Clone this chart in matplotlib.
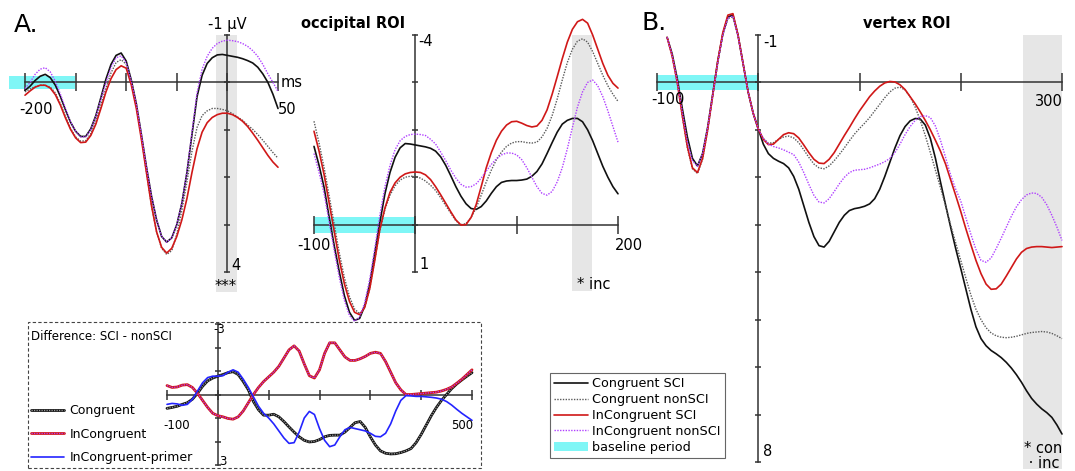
import matplotlib
matplotlib.use('Agg')
import matplotlib.pyplot as plt
from matplotlib.patches import Rectangle, Patch

# --- data (µV, negative up) ---
T_LEFT = list(range(-200, 51, 5))
LEFT_CON_SCI = [0.17, 0.08, -0.04, -0.13, -0.17, -0.1, 0.06, 0.3, 0.58, 0.84, 1.03, 1.14, 1.14, 0.98,
                0.7, 0.32, -0.07, -0.38, -0.57, -0.62, -0.45, -0.05, 0.45, 1.1, 1.78, 2.4, 2.9, 3.25,
                3.37, 3.28, 3.0, 2.55, 1.9, 1.1, 0.3, -0.15, -0.4, -0.52, -0.58, -0.59,
                -0.57, -0.55, -0.53, -0.5, -0.46, -0.41, -0.32, -0.18, 0.0, 0.25, 0.55]
LEFT_CON_NON = [0.2, 0.14, 0.09, 0.06, 0.06, 0.1, 0.22, 0.45, 0.72, 0.97, 1.15, 1.24, 1.23, 1.08,
                0.82, 0.47, 0.12, -0.2, -0.42, -0.48, -0.38, 0.0, 0.5, 1.15, 1.9, 2.6, 3.15, 3.5,
                3.63, 3.55, 3.2, 2.7, 2.1, 1.45, 0.95, 0.7, 0.6, 0.55, 0.55, 0.57,
                0.6, 0.66, 0.73, 0.8, 0.9, 0.99, 1.1, 1.22, 1.35, 1.48, 1.6]
LEFT_INC_SCI = [0.27, 0.18, 0.1, 0.06, 0.06, 0.12, 0.26, 0.48, 0.75, 0.99, 1.17, 1.27, 1.26, 1.12,
                0.88, 0.55, 0.2, -0.08, -0.27, -0.35, -0.3, 0.05, 0.55, 1.2, 1.9, 2.6, 3.15, 3.48,
                3.6, 3.5, 3.25, 2.9, 2.45, 1.9, 1.4, 1.05, 0.85, 0.74, 0.68, 0.65,
                0.65, 0.68, 0.74, 0.82, 0.93, 1.07, 1.22, 1.38, 1.54, 1.68, 1.79]
LEFT_INC_NON = [0.13, 0.0, -0.17, -0.28, -0.31, -0.22, -0.02, 0.25, 0.55, 0.83, 1.03, 1.15, 1.15, 1.0,
                0.72, 0.35, 0.0, -0.32, -0.52, -0.56, -0.42, -0.03, 0.45, 1.1, 1.78, 2.4, 2.9, 3.25,
                3.37, 3.28, 3.0, 2.55, 1.9, 1.05, 0.22, -0.28, -0.55, -0.72, -0.82, -0.87,
                -0.89, -0.88, -0.86, -0.82, -0.76, -0.67, -0.55, -0.38, -0.18, 0.0, 0.19]

T_OCC = list(range(-100, 201, 5))
OCC_CON_SCI = [-1.65, -1.25, -0.78, -0.15, 0.45, 1.0, 1.5, 1.85, 2.02, 1.98, 1.72, 1.25, 0.6, -0.05,
               -0.65, -1.1, -1.42, -1.62, -1.71, -1.7,
               -1.68, -1.66, -1.64, -1.61, -1.55, -1.43, -1.25, -1.03, -0.8, -0.6, -0.44, -0.34,
               -0.32, -0.38, -0.5, -0.66, -0.8, -0.89, -0.92, -0.93, -0.93, -0.94, -0.96, -1.02,
               -1.12, -1.28, -1.5, -1.73, -1.95, -2.12, -2.2, -2.24, -2.24, -2.17, -2.0, -1.77,
               -1.5, -1.23, -1.0, -0.8, -0.65]
OCC_CON_NON = [-2.18, -1.72, -1.2, -0.6, 0.0, 0.6, 1.12, 1.52, 1.78, 1.88, 1.75, 1.35, 0.75, 0.12,
               -0.32, -0.62, -0.82, -0.94, -1.0, -1.02,
               -1.02, -0.98, -0.92, -0.83, -0.72, -0.57, -0.4, -0.24, -0.08, 0.0, -0.02, -0.15,
               -0.35, -0.62, -0.9, -1.15, -1.37, -1.53, -1.65, -1.72, -1.75, -1.75, -1.73, -1.72,
               -1.74, -1.85, -2.03, -2.3, -2.65, -3.05, -3.42, -3.7, -3.87, -3.92, -3.85, -3.65,
               -3.4, -3.15, -2.93, -2.75, -2.6]
OCC_INC_SCI = [-1.97, -1.55, -1.05, -0.45, 0.15, 0.75, 1.25, 1.62, 1.85, 1.9, 1.75, 1.35, 0.75, 0.1,
               -0.35, -0.68, -0.88, -1.0, -1.07, -1.1,
               -1.11, -1.1, -1.05, -0.95, -0.8, -0.63, -0.45, -0.27, -0.1, 0.01, 0.0, -0.15,
               -0.42, -0.8, -1.2, -1.52, -1.78, -1.97, -2.1, -2.17, -2.18, -2.14, -2.09, -2.06,
               -2.08, -2.2, -2.42, -2.75, -3.12, -3.5, -3.85, -4.12, -4.28, -4.33, -4.25, -4.0,
               -3.7, -3.4, -3.15, -2.98, -2.88]
OCC_INC_NON = [-1.5, -1.1, -0.65, -0.05, 0.55, 1.12, 1.6, 1.92, 2.04, 1.95, 1.65, 1.15, 0.5, -0.2,
               -0.8, -1.25, -1.58, -1.77, -1.86, -1.9,
               -1.91, -1.9, -1.88, -1.8, -1.7, -1.53, -1.35, -1.15, -0.98, -0.85, -0.79, -0.8,
               -0.86, -0.98, -1.13, -1.27, -1.39, -1.47, -1.51, -1.51, -1.47, -1.37, -1.2, -1.0,
               -0.8, -0.66, -0.62, -0.7, -0.9, -1.2, -1.6, -2.05, -2.48, -2.8, -3.0, -3.05,
               -2.93, -2.7, -2.4, -2.07, -1.74]

T_VTX = list(range(-90, 301, 5))
VTX_CON_SCI = [-0.95, -0.6, -0.08, 0.55, 1.15, 1.6, 1.76, 1.5, 0.95, 0.25, -0.45, -1.02, -1.38, -1.42,
               -1.0, -0.4, 0.2, 0.65,
               0.98, 1.3, 1.5, 1.6, 1.66, 1.71, 1.8, 1.98, 2.25, 2.6, 2.95, 3.25, 3.44, 3.47, 3.35,
               3.15, 2.95, 2.8, 2.7, 2.66, 2.64, 2.61, 2.56, 2.45, 2.25, 1.98, 1.68, 1.38, 1.12,
               0.93, 0.81, 0.76, 0.77, 0.9, 1.18, 1.6, 2.1, 2.58, 3.05, 3.5, 3.92, 4.35, 4.78, 5.15,
               5.4, 5.55, 5.65, 5.72, 5.8, 5.9, 6.02, 6.16, 6.32, 6.5, 6.66, 6.78, 6.88, 6.96, 7.06,
               7.22, 7.41]
VTX_CON_NON = [-0.95, -0.55, 0.0, 0.72, 1.38, 1.82, 1.92, 1.62, 1.02, 0.3, -0.4, -1.0, -1.35, -1.38,
               -0.98, -0.4, 0.2, 0.65,
               0.98, 1.18, 1.28, 1.27, 1.2, 1.15, 1.13, 1.17, 1.27, 1.42, 1.58, 1.72, 1.8, 1.82,
               1.76, 1.65, 1.52, 1.38, 1.23, 1.09, 0.97, 0.86, 0.74, 0.6, 0.46, 0.32, 0.2, 0.12,
               0.1, 0.16, 0.3, 0.52, 0.8, 1.12, 1.48, 1.85, 2.22, 2.6, 3.0, 3.38, 3.75, 4.12, 4.48,
               4.78, 5.0, 5.17, 5.28, 5.34, 5.37, 5.38, 5.37, 5.35, 5.32, 5.29, 5.27, 5.26, 5.25,
               5.26, 5.29, 5.34, 5.4]
VTX_INC_SCI = [-0.95, -0.55, 0.0, 0.7, 1.35, 1.8, 1.9, 1.6, 1.0, 0.28, -0.45, -1.05, -1.42, -1.45,
               -1.0, -0.4, 0.2, 0.65,
               0.98, 1.2, 1.31, 1.3, 1.2, 1.1, 1.06, 1.08, 1.17, 1.32, 1.48, 1.62, 1.7, 1.71, 1.62,
               1.48, 1.3, 1.12, 0.95, 0.77, 0.6, 0.45, 0.3, 0.18, 0.08, 0.01, -0.02, -0.01, 0.05,
               0.15, 0.3, 0.45, 0.62, 0.8, 1.0, 1.22, 1.45, 1.72, 2.05, 2.38, 2.72, 3.08, 3.42,
               3.75, 4.03, 4.25, 4.36, 4.35, 4.25, 4.08, 3.9, 3.72, 3.58, 3.5, 3.47, 3.46, 3.46,
               3.47, 3.48, 3.47, 3.46]
VTX_INC_NON = [-0.95, -0.57, -0.03, 0.62, 1.25, 1.65, 1.77, 1.5, 0.95, 0.27, -0.42, -1.0, -1.36, -1.4,
               -0.98, -0.4, 0.2, 0.65,
               0.98, 1.18, 1.3, 1.35, 1.38, 1.42, 1.47, 1.52, 1.68, 1.9, 2.15, 2.38, 2.52, 2.54,
               2.45, 2.3, 2.14, 2.0, 1.9, 1.85, 1.84, 1.83, 1.8, 1.76, 1.72, 1.67, 1.6, 1.48, 1.3,
               1.1, 0.93, 0.8, 0.72, 0.7, 0.74, 0.92, 1.22, 1.58, 1.95, 2.25, 2.5, 2.85, 3.2, 3.52,
               3.75, 3.79, 3.7, 3.5, 3.28, 3.05, 2.82, 2.62, 2.47, 2.37, 2.33, 2.34, 2.42, 2.58,
               2.8, 3.05, 3.33]

T_DIFF = list(range(-100, 501, 10))
DIFF_CON = [0.59, 0.55, 0.5, 0.42, 0.35, 0.2, -0.05, -0.35, -0.58, -0.7, -0.78, -0.85, -0.93, -0.97,
            -0.85, -0.55, -0.2, 0.3, 0.65, 0.88, 0.88, 0.84, 0.95, 1.15, 1.38, 1.6, 1.8, 1.95, 2.02,
            2.0, 1.92, 1.8, 1.74, 1.73, 1.73, 1.6, 1.4, 1.2, 1.15, 1.4, 1.8, 2.15, 2.4, 2.5, 2.53,
            2.52, 2.47, 2.4, 2.3, 2.05, 1.7, 1.3, 0.9, 0.55, 0.25, 0.0, -0.25, -0.45, -0.62, -0.78,
            -0.93]
DIFF_INC = [-0.38, -0.3, -0.32, -0.4, -0.42, -0.3, -0.05, 0.25, 0.55, 0.8, 0.9, 0.95, 1.02, 1.05,
            0.95, 0.7, 0.35, 0.0, -0.3, -0.55, -0.75, -0.95, -1.2, -1.55, -1.9, -2.07, -1.85, -1.3,
            -0.8, -0.7, -1.05, -1.75, -2.2, -2.2, -1.9, -1.6, -1.45, -1.45, -1.52, -1.62, -1.75,
            -1.8, -1.75, -1.4, -0.95, -0.5, -0.2, 0.0, 0.0, -0.02, -0.04, -0.06, -0.08, -0.1, -0.15,
            -0.22, -0.32, -0.48, -0.65, -0.85, -1.05]
DIFF_PRIMER = [0.42, 0.38, 0.4, 0.46, 0.42, 0.2, -0.15, -0.5, -0.72, -0.78, -0.78, -0.8, -0.95, -1.05,
               -0.95, -0.65, -0.3, 0.1, 0.5, 0.8, 1.0, 1.25, 1.55, 1.85, 2.08, 2.05, 1.6, 1.0, 0.72,
               0.85, 1.45, 1.95, 2.22, 2.15, 1.8, 1.5, 1.4, 1.45, 1.5, 1.55, 1.65, 1.78, 1.8, 1.65,
               1.25, 0.7, 0.25, 0.05, 0.06, 0.08, 0.08, 0.1, 0.12, 0.15, 0.2, 0.3, 0.45, 0.63, 0.8,
               0.95, 1.1]

# time windows (ms) and baseline bands
LEFT_SIG = (-11, 9)
OCC_SIG = (155, 174)
VTX_SIG = (261, 300)
LEFT_BASE = (-216, -151)
OCC_BASE = (-100, 0)
VTX_BASE = (-100, 0)

BLACK = '#111111'
GRAY = '#5a5a5a'
RED = '#d01818'
PURPLE = '#b040ff'
BLUE = '#2424ff'
CYAN = '#7ff6f6'
BAND = '#e6e6e6'
AXC = '#333333'

W, H = 1075, 471
fig = plt.figure(figsize=(W / 100, H / 100), dpi=100)


def panel(xlim, ylim, px, py, xticks, yticks, xlen=13.5, ylen=5):
    # px: pixel columns of xlim ends, py: pixel rows of ylim ends (top value first)
    ax = fig.add_axes([px[0] / W, 1 - py[1] / H, (px[1] - px[0]) / W, (py[1] - py[0]) / H])
    ax.set_xlim(*xlim)
    ax.set_ylim(ylim[1], ylim[0])
    ax.patch.set_visible(False)
    for s in ['top', 'right']:
        ax.spines[s].set_visible(False)
    for s in ['left', 'bottom']:
        ax.spines[s].set_position(('data', 0))
        ax.spines[s].set_color(AXC)
        ax.spines[s].set_linewidth(1.1)
        ax.spines[s].set_zorder(2.5)
    ax.set_xticks(xticks)
    ax.set_yticks(yticks)
    ax.tick_params(labelbottom=False, labelleft=False)
    ax.tick_params(axis='x', direction='inout', length=xlen, width=1.1, color=AXC)
    ax.tick_params(axis='y', direction='inout', length=ylen, width=1.1, color=AXC)
    return ax


LKW = dict(clip_on=False, zorder=3, solid_joinstyle='round', dash_joinstyle='round',
           solid_capstyle='round')


def erp(ax, t, con_sci, con_non, inc_sci, inc_non):
    a = ax.plot(t, con_sci, color=BLACK, lw=1.2, label='Congruent SCI', **LKW)[0]
    b = ax.plot(t, con_non, color=GRAY, lw=1.0, ls=(0, (1, 1)), label='Congruent nonSCI', **LKW)[0]
    c = ax.plot(t, inc_sci, color=RED, lw=1.2, label='InCongruent SCI', **LKW)[0]
    d = ax.plot(t, inc_non, color=PURPLE, lw=1.0, ls=(0, (1, 1)), label='InCongruent nonSCI', **LKW)[0]
    return [a, b, c, d]


def bands(ax, sig, sig_y, base, base_h):
    ax.fill_between(sig, sig_y[0], sig_y[1], color=BAND, lw=0, zorder=0.5, clip_on=False)
    ax.fill_between(base, -base_h, base_h, color=CYAN, lw=0, zorder=1, clip_on=False)


FS = 10.5

# --- A: left panel ---
axl = panel((-200, 50), (-1, 4), (25, 278), (35, 272), range(-200, 51, 50), range(-1, 5))
bands(axl, LEFT_SIG, (-1, 4.43), LEFT_BASE, 0.13)
erp(axl, T_LEFT, LEFT_CON_SCI, LEFT_CON_NON, LEFT_INC_SCI, LEFT_INC_NON)
axl.text(-206, 0.57, '-200', fontsize=FS, ha='left', va='center')
axl.text(50, 0.57, '50', fontsize=FS, ha='left', va='center')
axl.text(53, 0.0, 'ms', fontsize=FS, ha='left', va='center')
axl.text(0, -1.22, '-1 µV', fontsize=FS, ha='center', va='center')
axl.text(4, 3.86, '4', fontsize=FS, ha='left', va='center')
axl.text(-2, 4.3, '***', fontsize=FS, ha='center', va='center')
fig.text(14 / W, 1 - 32 / H, 'A.', fontsize=18, ha='left', va='baseline')

# --- occipital ROI ---
axm = panel((-100, 200), (-4, 1), (314, 618), (35, 272), range(-100, 201, 100), range(-4, 2))
bands(axm, OCC_SIG, (-4, 1.41), OCC_BASE, 0.17)
erp(axm, T_OCC, OCC_CON_SCI, OCC_CON_NON, OCC_INC_SCI, OCC_INC_NON)
axm.text(-100, 0.45, '-100', fontsize=FS, ha='center', va='center')
axm.text(197, 0.45, '200', fontsize=FS, ha='left', va='center')
axm.text(3, -3.86, '-4', fontsize=FS, ha='left', va='center')
axm.text(4, 0.84, '1', fontsize=FS, ha='left', va='center')
axm.text(160, 1.27, '* inc', fontsize=FS, ha='left', va='center')
axm.text(-61, -4.24, 'occipital ROI', fontsize=FS, fontweight='bold', ha='center', va='center')

# --- B: vertex ROI ---
axr = panel((-100, 300), (-1, 8), (657, 1062), (35, 462), range(-100, 301, 100), range(-1, 9))
bands(axr, VTX_SIG, (-1, 8.14), VTX_BASE, 0.16)
lines = erp(axr, T_VTX, VTX_CON_SCI, VTX_CON_NON, VTX_INC_SCI, VTX_INC_NON)
axr.text(-106, 0.36, '-100', fontsize=FS, ha='left', va='center')
axr.text(301, 0.4, '300', fontsize=FS, ha='right', va='center')
axr.text(5, -0.84, '-1', fontsize=FS, ha='left', va='center')
axr.text(5, 7.78, '8', fontsize=FS, ha='left', va='center')
axr.text(262, 7.72, '* con', fontsize=FS, ha='left', va='center')
axr.text(262, 8.03, ' \u00b7 inc', fontsize=FS, ha='left', va='center')
axr.text(147, -1.24, 'vertex ROI', fontsize=FS, fontweight='bold', ha='center', va='center')
fig.text(641 / W, 1 - 30 / H, 'B.', fontsize=18, ha='left', va='baseline')

leg = fig.legend(handles=lines + [Patch(facecolor=CYAN, edgecolor='none', label='baseline period')],
                 loc='upper left', bbox_to_anchor=(550 / W, 1 - 373 / H), borderaxespad=0,
                 fontsize=9.2, frameon=True, fancybox=False, edgecolor='#666666', framealpha=1,
                 borderpad=0.35, labelspacing=0.22, handlelength=2.6, handletextpad=0.35)
leg.get_frame().set_linewidth(0.8)

# --- inset: difference waves ---
fig.patches.append(Rectangle((28 / W, 1 - 468 / H), (481 - 28) / W, (468 - 322) / H,
                             transform=fig.transFigure, fill=False, ls=(0, (3, 2)),
                             lw=0.8, ec='#444444'))
fig.text(31 / W, 1 - 336 / H, 'Difference: SCI - nonSCI', fontsize=8.5, ha='left', va='center')
axd = panel((-100, 500), (-3, 3), (167, 472), (324, 465), range(-100, 501, 100), range(-3, 4),
            xlen=6.5, ylen=5)
c1 = axd.plot(T_DIFF, DIFF_CON, color=BLACK, lw=2.0, **LKW)[0]
c2 = axd.plot(T_DIFF, DIFF_CON, color='#9a9a9a', lw=0.9, ls=(0, (1, 1)), **LKW)[0]
i1 = axd.plot(T_DIFF, DIFF_INC, color=RED, lw=2.0, **LKW)[0]
i2 = axd.plot(T_DIFF, DIFF_INC, color=PURPLE, lw=0.9, ls=(0, (1, 1)), **LKW)[0]
p1 = axd.plot(T_DIFF, DIFF_PRIMER, color=BLUE, lw=1.2, **LKW)[0]
axd.text(-107, 1.31, '-100', fontsize=8.5, ha='left', va='center')
axd.text(502, 1.31, '500', fontsize=8.5, ha='right', va='center')
axd.text(-8, -2.78, '-3', fontsize=8.5, ha='left', va='center')
axd.text(3, 2.85, '3', fontsize=8.5, ha='left', va='center')
fig.legend(handles=[(c1, c2), (i1, i2), p1], labels=['Congruent', 'InCongruent', 'InCongruent-primer'],
           loc='upper left', bbox_to_anchor=(31 / W, 1 - 404 / H), borderaxespad=0, frameon=False,
           fontsize=9, borderpad=0, labelspacing=0.85, handlelength=2.6, handletextpad=0.5)

fig.savefig('out.png', dpi=100)
